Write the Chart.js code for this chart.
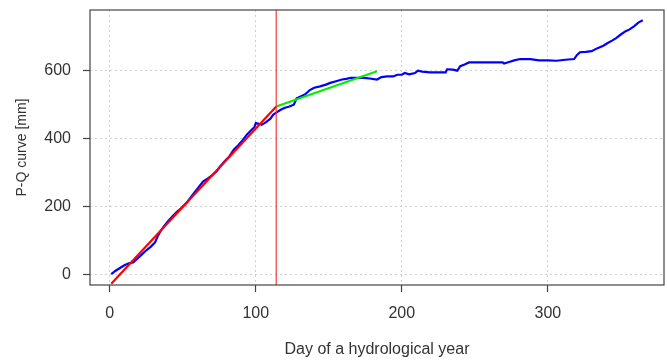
<!DOCTYPE html>
<html>
<head>
<meta charset="utf-8">
<script src="https://cdn.jsdelivr.net/npm/chart.js@4/dist/chart.umd.min.js"></script>
<style>
html,body{margin:0;padding:0;background:#fff;}
#wrap{width:667px;height:361px;position:relative;}
</style>
</head>
<body>
<div id="wrap"><canvas id="c" width="667" height="361"></canvas></div>
<script>
// Data
const days = [1,4,7,10,13,16,19,22,25,28,31,33,35,37,40,43,46,49,51,53,55,58,61,64,67,70,73,76,79,82,85,88,91,94,97,99,100,102,104,107,110,112,114,117,120,123,126,128,131,134,137,140,144,148,151,155,159,162,165,170,174,178,183,186,190,194,197,200,202,205,209,211,214,219,225,230,231,235,238,240,243,246,255,262,269,270,274,277,281,288,294,300,306,312,318,320,322,326,330,334,338,341,344,347,350,353,356,359,362,365];
const pq = [2,12,20,28,34,36,48,60,72,82,95,115,130,142,158,172,185,196,205,213,225,242,258,274,282,292,303,320,335,348,368,380,395,412,425,433,445,443,440,448,458,470,476,484,490,494,499,518,524,530,542,549,553,558,563,568,573,575,578,578,578,576,573,580,582,582,587,587,592,588,592,599,596,594,594,594,603,602,599,612,617,623,623,623,623,620,625,629,633,633,629,629,628,631,633,645,653,654,656,665,672,680,687,695,705,714,720,729,740,747];
const fit1Days = [1,114];
const fit1Vals = [-26,494];
const fit2Days = [114,183];
const fit2Vals = [494,597];
const breakDay = 114;
const xTicks = [0,100,200,300];
const yTicks = [0,200,400,600];
const xRange = [-13.56, 379.56];
const yRange = [-29.9, 776.9];

const pts = (xs, ys) => xs.map((x,i)=>({x:x,y:ys[i]}));

const boxPlugin = {
  id:'box',
  afterDraw(chart){
    const a = chart.chartArea, ctx = chart.ctx;
    ctx.save();
    ctx.strokeStyle = '#444';
    ctx.lineWidth = 1.2;
    ctx.strokeRect(a.left, a.top, a.right-a.left, a.bottom-a.top);
    ctx.restore();
  }
};

new Chart(document.getElementById('c'), {
  type:'scatter',
  data:{
    datasets:[
      {label:'P-Q', data:pts(days,pq), showLine:true, borderColor:'#0000ff', borderWidth:2.2, pointRadius:0, tension:0, order:3},
      {label:'fit1', data:pts(fit1Days,fit1Vals), showLine:true, borderColor:'#ff0000', borderWidth:2.2, pointRadius:0, order:2},
      {label:'fit2', data:pts(fit2Days,fit2Vals), showLine:true, borderColor:'#00ee00', borderWidth:2.2, pointRadius:0, order:1},
      {label:'break', data:[{x:breakDay,y:yRange[0]},{x:breakDay,y:yRange[1]}], showLine:true, borderColor:'rgba(255,40,40,0.75)', borderWidth:1.5, pointRadius:0, order:0}
    ]
  },
  options:{
    responsive:false,
    animation:false,
    devicePixelRatio:1,
    layout:{padding:{top:10,right:3,left:0,bottom:0}},
    plugins:{legend:{display:false},tooltip:{enabled:false}},
    scales:{
      x:{
        type:'linear', min:xRange[0], max:xRange[1],
        afterBuildTicks(s){ s.ticks = xTicks.map(v=>({value:v})); },
        afterFit(s){ s.height = 76; s.paddingLeft = 0; s.paddingRight = 0; },
        grid:{color:'#cfcfcf', lineWidth:1, borderDash:[2,3], tickColor:'#444', tickLength:7, tickWidth:1.2, tickBorderDash:[]},
        border:{display:false, dash:[2,3]},
        ticks:{color:'#333', font:{family:'"Liberation Sans", Arial, sans-serif', size:16}, padding:12, maxRotation:0},
        title:{display:true, text:'Day of a hydrological year', color:'#333', font:{family:'"Liberation Sans", Arial, sans-serif', size:16}, padding:{top:0,bottom:2}}
      },
      y:{
        type:'linear', min:yRange[0], max:yRange[1],
        afterBuildTicks(s){ s.ticks = yTicks.map(v=>({value:v})); },
        afterFit(s){ s.width = 90; s.paddingTop = 0; s.paddingBottom = 0; },
        grid:{color:'#cfcfcf', lineWidth:1, borderDash:[2,3], tickColor:'#444', tickLength:7, tickWidth:1.2, tickBorderDash:[]},
        border:{display:false, dash:[2,3]},
        ticks:{color:'#333', font:{family:'"Liberation Sans", Arial, sans-serif', size:16}, padding:12},
        title:{display:true, text:'P-Q curve [mm]', color:'#333', font:{family:'"Liberation Sans", Arial, sans-serif', size:14}, padding:{top:14,bottom:0}}
      }
    }
  },
  plugins:[boxPlugin]
});
</script>
</body>
</html>
